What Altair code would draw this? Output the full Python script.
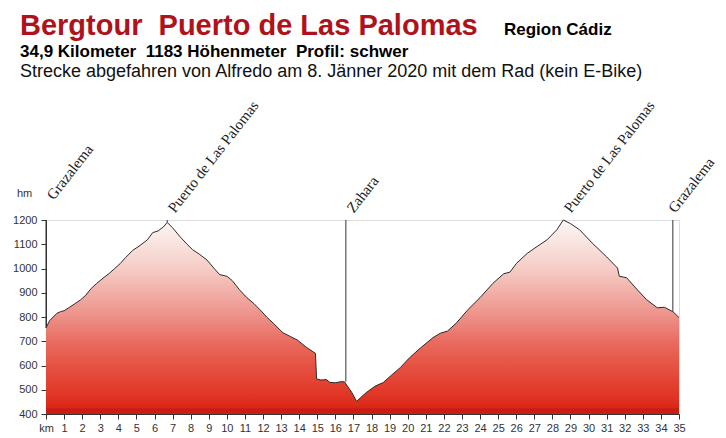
import altair as alt
import pandas as pd

# ---- data ----
km = [0.0, 0.2, 0.4, 0.6, 0.8, 1.0, 1.3, 1.6, 1.9, 2.2, 2.5, 2.8, 3.15, 3.5, 3.8, 4.1,
      4.4, 4.8, 5.2, 5.6, 5.9, 6.2, 6.5, 6.7, 7.0, 7.4, 7.8, 8.1, 8.5, 8.9, 9.3, 9.6,
      10.0, 10.3, 10.7, 11.1, 11.5, 11.9, 12.2, 12.6, 13.1, 13.5, 13.9, 14.4, 14.9,
      14.96, 15.2, 15.5, 15.7, 16.0, 16.3, 16.5, 16.9, 17.17, 17.4, 17.7, 18.2, 18.65,
      19.1, 19.6, 20.1, 20.7, 21.4, 21.8, 22.2, 22.7, 23.3, 24.0, 24.7, 25.3, 25.65,
      26.0, 26.6, 27.1, 27.7, 28.25, 28.6, 29.0, 29.5, 30.2, 31.0, 31.6, 31.7, 32.1,
      32.7, 33.2, 33.8, 34.2, 34.66, 35.0]
elev = [755, 785, 800, 815, 822, 826, 840, 855, 870, 890, 918, 938, 960, 980, 1000, 1020,
        1045, 1075, 1095, 1118, 1148, 1155, 1172, 1190, 1168, 1132, 1100, 1078, 1058, 1035, 1000, 975,
        968, 950, 912, 880, 855, 825, 800, 772, 735, 720, 705, 675, 650,
        545, 540, 542, 530, 529, 533, 533, 490, 452, 468, 488, 515, 530,
        560, 592, 632, 672, 715, 733, 742, 776, 828, 880, 938, 978, 985,
        1020, 1062, 1088, 1118, 1160, 1200, 1185, 1160, 1105, 1048, 1002, 968, 962,
        912, 872, 838, 840, 822, 798]

marker_names = ["Grazalema", "Puerto de Las Palomas", "Zahara", "Puerto de Las Palomas", "Grazalema"]
marker_km = [0.0, 6.7, 16.58, 28.6, 34.66]
marker_elev = [755, 1190, 533, 1200, 822]
marker_top = [1200, 1200, 1200, 1200, 1200]

y_ticks = [400, 500, 600, 700, 800, 900, 1000, 1100, 1200]
x_ticks = list(range(0, 36))

title_1 = "Bergtour\u00a0\u00a0Puerto de Las Palomas"
title_region = "Region Cádiz"
title_2 = "34,9 Kilometer\u00a0\u00a01183 Höhenmeter\u00a0\u00a0Profil: schwer"
title_3 = "Strecke abgefahren von Alfredo am 8. Jänner 2020 mit dem Rad (kein E-Bike)"
y_unit = "hm"

# ---- chart ----
W, H = 633, 194
SANS = "Liberation Sans"

profile = pd.DataFrame({"km": km, "elev": elev})
markers = pd.DataFrame({"name": marker_names, "km": marker_km,
                        "elev": marker_elev, "top": marker_top})

xscale = alt.Scale(domain=[0, 35], nice=False, zero=False)
yscale = alt.Scale(domain=[400, 1200], nice=False, zero=False)

xaxis = alt.Axis(values=x_ticks, title=None,
                 labelExpr="datum.value == 0 ? 'km' : datum.value",
                 labelFont=SANS, labelFontSize=11, labelColor="#333",
                 labelPadding=3, tickSize=5, tickColor="#333",
                 domainColor="#333", labelOverlap=False, labelFlush=False,
                 grid=False)
yaxis = alt.Axis(values=y_ticks, title=None, format="d",
                 labelFont=SANS, labelFontSize=11, labelColor="#333",
                 labelPadding=4, tickSize=5, tickColor="#333",
                 domainColor="#333", labelOverlap=False, grid=False)

grad = alt.Gradient(
    gradient="linear", x1=1, x2=1, y1=0, y2=1,
    stops=[
        alt.GradientStop(color="#fdf7f5", offset=0.0),
        alt.GradientStop(color="#f5cdc6", offset=0.25),
        alt.GradientStop(color="#ed9088", offset=0.5),
        alt.GradientStop(color="#e96e62", offset=0.62),
        alt.GradientStop(color="#e65242", offset=0.75),
        alt.GradientStop(color="#e23a2a", offset=0.88),
        alt.GradientStop(color="#da2818", offset=0.965),
        alt.GradientStop(color="#c81c12", offset=0.975),
        alt.GradientStop(color="#cc1e12", offset=1.0),
    ],
)

area = alt.Chart(profile).mark_area(
    color=grad, opacity=1, fillOpacity=1,
    line={"color": "#2b2b2b", "strokeWidth": 1},
).encode(
    x=alt.X("km:Q", scale=xscale, axis=xaxis),
    y=alt.Y("elev:Q", scale=yscale, axis=yaxis),
    y2=alt.datum(400),
)

rules = alt.Chart(markers).mark_rule(color="#333", strokeWidth=1).encode(
    x=alt.X("km:Q", scale=xscale, axis=xaxis),
    y=alt.Y("top:Q", scale=yscale, axis=yaxis),
    y2="elev:Q",
)

labels = alt.Chart(markers).transform_calculate(
    ly="datum.km == 0 ? -19 : -6",
    lkm="datum.km > 34 ? datum.km - 0.3 : datum.km",
).mark_text(
    angle=308, align="left", baseline="alphabetic", dx=5, dy=6,
    font="Liberation Serif", fontSize=15, color="#222",
).encode(
    x=alt.X("lkm:Q", scale=xscale, axis=xaxis),
    y=alt.Y("ly:Q", scale=None),
    text="name:N",
)

def txt(s, x, y, size, bold=False, color="#000", font=SANS):
    return alt.Chart(pd.DataFrame({"t": [s]})).mark_text(
        align="left", baseline="alphabetic", font=font, fontSize=size,
        fontWeight="bold" if bold else "normal", color=color,
    ).encode(x=alt.value(x), y=alt.value(y), text="t:N")

t1 = txt(title_1, -26, -185, 29, True, "#b0121b")
tr = txt(title_region, 458, -185, 17, True)
t2 = txt(title_2, -26, -163, 17, True)
t3 = txt(title_3, -26, -143, 18, False, "#111")
hm = txt(y_unit, -29, -23, 11, False, "#333333")

chart = alt.layer(area, rules, labels, t1, tr, t2, t3, hm).properties(
    width=W, height=H,
    autosize=alt.AutoSizeParams(type="none"),
    padding={"left": 38, "top": 212, "right": 39, "bottom": 22},
).configure_view(stroke=None).configure(background="white")

chart.save("out.html", embed_options={"renderer": "svg", "actions": False})
